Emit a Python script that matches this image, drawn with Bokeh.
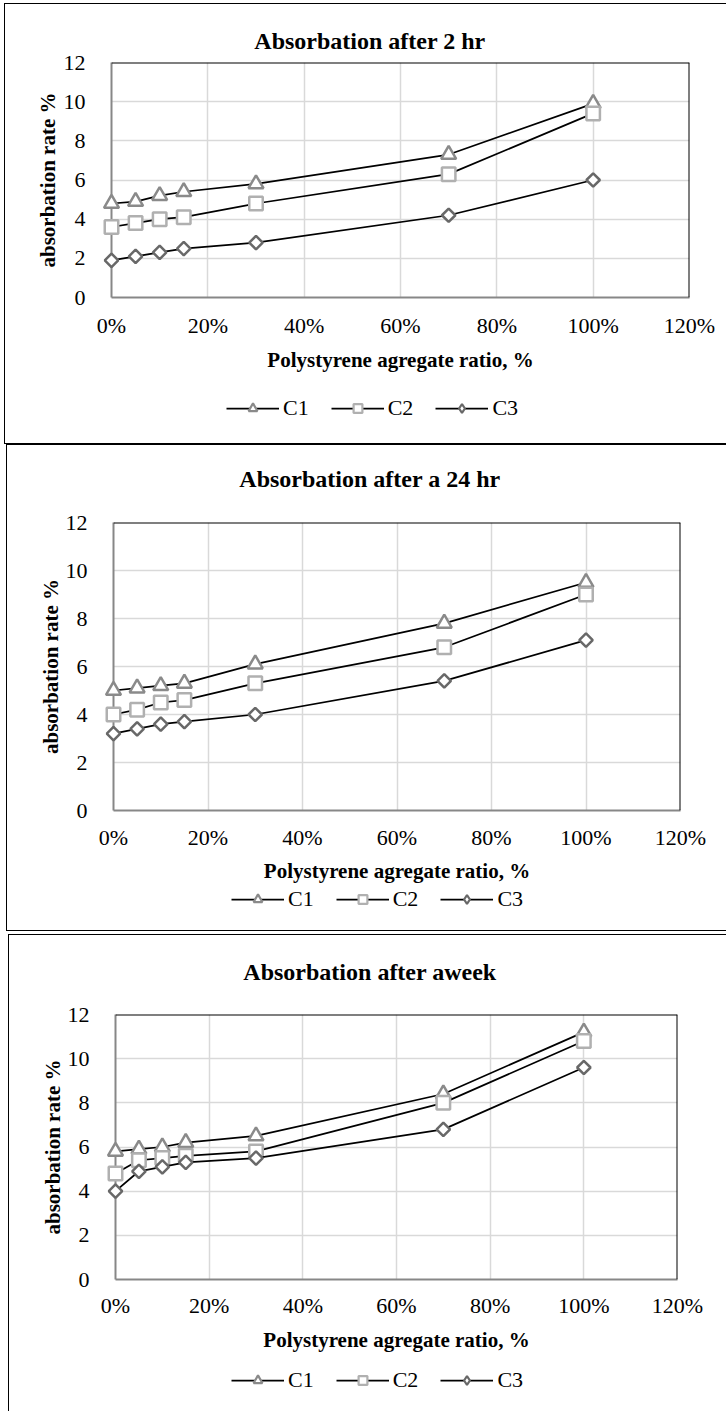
from bokeh.plotting import figure
from bokeh.models import (FixedTicker, NumeralTickFormatter, Range1d, Legend,
                          LegendItem, Span, Label)
from bokeh.layouts import column
from bokeh.embed import file_html
from bokeh.resources import INLINE
import numpy as np

# ---------------- data ----------------
ratio = [0.00, 0.05, 0.10, 0.15, 0.30, 0.70, 1.00]
x_ticks = [0, 0.2, 0.4, 0.6, 0.8, 1.0, 1.2]
y_ticks = [0, 2, 4, 6, 8, 10, 12]
series_names = ["C1", "C2", "C3"]

titles = ["Absorbation after 2 hr", "Absorbation after a 24 hr", "Absorbation after aweek"]
x_title = "Polystyrene agregate ratio, %"
y_title = "absorbation rate %"

c1_2hr = [4.8, 4.9, 5.2, 5.4, 5.8, 7.3, 9.9]
c2_2hr = [3.6, 3.8, 4.0, 4.1, 4.8, 6.3, 9.4]
c3_2hr = [1.9, 2.1, 2.3, 2.5, 2.8, 4.2, 6.0]

c1_24hr = [5.0, 5.1, 5.2, 5.3, 6.1, 7.8, 9.5]
c2_24hr = [4.0, 4.2, 4.5, 4.6, 5.3, 6.8, 9.0]
c3_24hr = [3.2, 3.4, 3.6, 3.7, 4.0, 5.4, 7.1]

c1_week = [5.8, 5.9, 6.0, 6.2, 6.5, 8.4, 11.2]
c2_week = [4.8, 5.4, 5.5, 5.6, 5.8, 8.0, 10.8]
c3_week = [4.0, 4.9, 5.1, 5.3, 5.5, 6.8, 9.6]

panel_values = [
    [c1_2hr, c2_2hr, c3_2hr],
    [c1_24hr, c2_24hr, c3_24hr],
    [c1_week, c2_week, c3_week],
]

# ---------------- styles ----------------
FONT = "Liberation Serif"
BORDER = "1.5px solid black"
BL, BR = 106, 38          # common left / right borders (column aligns them)
marker_styles = [
    dict(marker="triangle", size=15, line_color="#8a8a8a", angle=0.0, key="triangle"),
    dict(marker="square", size=13.5, line_color="#b0b0b0", angle=0.0, key="square"),
    dict(marker="square", size=9.5, line_color="#686868", angle=np.pi / 4, key="diamond"),
]

# layout per panel (px): title strip + plot + legend strip
layouts = [
    dict(ml=4, mt=3, ow=722, th=55, ty=19, overlap=8, pw=722, ph=335, top=12, fh=235,
         lh=59, leg_x=115, leg_y=23, bottom_border=True,
         tick_so=9, xlab_so=7, ylab_so=1),
    dict(ml=6, mt=0, ow=720, th=56, ty=23, overlap=0, pw=711, ph=385, top=22, fh=288,
         lh=46, leg_x=118, leg_y=19, bottom_border=True,
         tick_so=8, xlab_so=6, ylab_so=0),
    dict(ml=8, mt=3, ow=718, th=61, ty=25, overlap=0, pw=706, ph=363, top=19, fh=265,
         lh=53, leg_x=116, leg_y=18, bottom_border=False,
         tick_so=7, xlab_so=7, ylab_so=0),
]


def strip(width, height, styles):
    f = figure(width=width, height=height, x_range=Range1d(0, 1), y_range=Range1d(100, 101),
               x_axis_type=None, y_axis_type=None, output_backend="svg",
               toolbar_location=None, title=None,
               min_border_left=BL, min_border_right=BR, min_border_top=0, min_border_bottom=0,
               background_fill_color="white", border_fill_color="white", styles=styles)
    f.outline_line_color = None
    f.grid.visible = False
    return f


def make_panel(title, values, L):
    content_left = L["ml"] + 1.5

    # title strip
    tf = strip(L["ow"], L["th"], {"margin-left": f"{L['ml']}px", "margin-top": f"{L['mt']}px",
                                  "border-left": BORDER, "border-top": BORDER})
    tf.add_layout(Label(x=370 - content_left - BL, y=L["ty"], x_units="screen", y_units="screen",
                        text=title, text_align="center", text_baseline="middle",
                        text_font=FONT, text_font_style="bold", text_font_size="24px",
                        text_color="black"))

    # plot (transparent outer area so it may overlap the title strip)
    p = figure(width=L["pw"], height=L["ph"],
               x_range=Range1d(0, 1.2), y_range=Range1d(0, 12),
               output_backend="svg", toolbar_location=None, title=None,
               min_border_left=BL, min_border_right=BR,
               min_border_top=L["top"], min_border_bottom=L["ph"] - L["top"] - L["fh"],
               background_fill_color="white", border_fill_alpha=0,
               styles={"margin-left": f"{L['ml']}px", "margin-top": f"{-L['overlap']}px",
                       "border-left": BORDER})
    p.outline_line_color = None

    p.xaxis.ticker = FixedTicker(ticks=x_ticks)
    p.yaxis.ticker = FixedTicker(ticks=y_ticks)
    p.xaxis.formatter = NumeralTickFormatter(format="0%")
    for ax in (p.xaxis, p.yaxis):
        ax.axis_line_color = "#878787"
        ax.axis_line_width = 2
        ax.major_tick_line_color = None
        ax.minor_tick_line_color = None
        ax.major_label_text_font = FONT
        ax.major_label_text_font_size = "22px"
        ax.major_label_text_color = "black"
        ax.axis_label_text_font = FONT
        ax.axis_label_text_font_size = "21px"
        ax.axis_label_text_font_style = "bold"
        ax.axis_label_text_color = "black"
    p.xaxis.axis_label = x_title
    p.yaxis.axis_label = y_title
    p.xaxis.major_label_standoff = L["tick_so"]
    p.xaxis.axis_label_standoff = L["xlab_so"]
    p.yaxis.major_label_standoff = 20
    p.yaxis.axis_label_standoff = L["ylab_so"]

    for g in (p.xgrid, p.ygrid):
        g.grid_line_color = "#d9d9d9"
        g.grid_line_width = 1.5

    p.add_layout(Span(location=12, dimension="width", line_color="black", line_width=2))
    p.add_layout(Span(location=1.2, dimension="height", line_color="black", line_width=2))

    for vals, ms in zip(values, marker_styles):
        p.line(ratio, vals, line_color="black", line_width=1.75, level="overlay")
        p.scatter(ratio, vals, marker=ms["marker"], size=ms["size"], angle=ms["angle"],
                  fill_color="white", line_color=ms["line_color"], line_width=2.5,
                  level="overlay")

    # legend strip (its renderers hold the series but lie outside its view)
    lstyles = {"margin-left": f"{L['ml']}px", "border-left": BORDER}
    if L["bottom_border"]:
        lstyles["border-bottom"] = BORDER
    lf = strip(L["ow"], L["lh"], lstyles)
    items = []
    for name, vals, ms in zip(series_names, values, marker_styles):
        lr = lf.line(ratio, vals, line_color="black", line_width=1.75)
        sr = lf.scatter(ratio, vals, marker=ms["key"], size=ms["size"],
                        fill_color="white", line_color=ms["line_color"], line_width=2.2)
        items.append(LegendItem(label=name, renderers=[lr, sr]))
    legend = Legend(items=items, location=(L["leg_x"], L["leg_y"]), orientation="horizontal",
                    glyph_width=53, glyph_height=22, label_height=22, label_standoff=4,
                    spacing=22, padding=0, margin=0, border_line_color=None,
                    background_fill_alpha=0, label_text_font=FONT,
                    label_text_font_size="22px", label_text_color="black")
    lf.add_layout(legend)
    return [tf, p, lf]


figs = []
for t, v, L in zip(titles, panel_values, layouts):
    figs.extend(make_panel(t, v, L))
page = column(*figs, spacing=0)

open("out.html", "w").write(file_html(page, INLINE))
